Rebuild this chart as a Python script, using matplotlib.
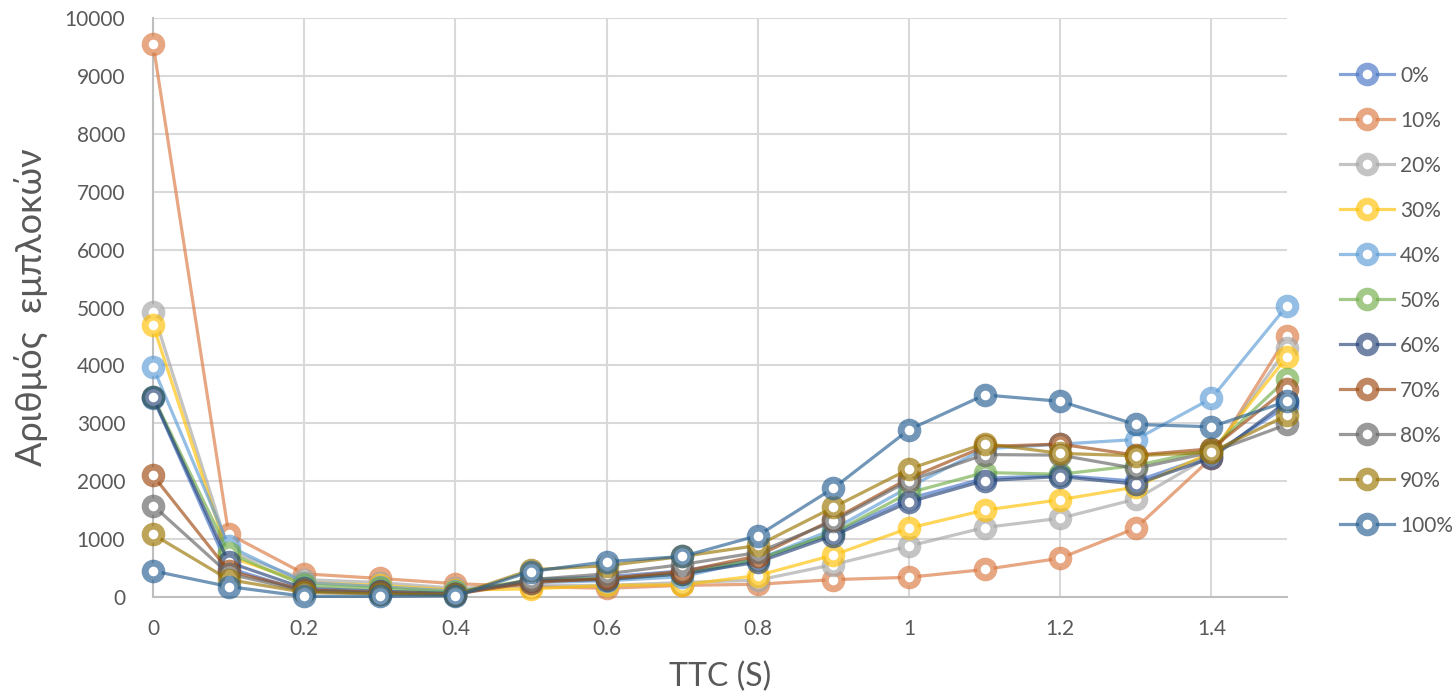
import matplotlib.pyplot as plt
from matplotlib.colors import to_rgba
from matplotlib.ticker import FixedLocator

plt.rcParams['font.family'] = ['Lato', 'Open Sans', 'DejaVu Sans']

ttc = [0, 0.1, 0.2, 0.3, 0.4, 0.5, 0.6, 0.7, 0.8, 0.9, 1.0, 1.1, 1.2, 1.3, 1.4, 1.5]
labels = ['0%', '10%', '20%', '30%', '40%', '50%', '60%', '70%', '80%', '90%', '100%']

s0 = [3440, 500, 100, 60, 40, 300, 350, 450, 650, 1100, 1700, 2050, 2100, 2000, 2450, 3300]
s10 = [9560, 1090, 400, 320, 230, 180, 150, 200, 220, 300, 340, 475, 670, 1190, 2400, 4500]
s20 = [4930, 800, 300, 250, 150, 200, 200, 250, 290, 560, 880, 1200, 1360, 1690, 2450, 4300]
s30 = [4700, 700, 250, 200, 120, 140, 200, 210, 370, 725, 1190, 1500, 1680, 1900, 2500, 4150]
s40 = [3970, 880, 250, 180, 100, 250, 280, 350, 650, 1170, 1900, 2560, 2640, 2720, 3430, 5030]
s50 = [3460, 760, 200, 150, 80, 300, 320, 400, 650, 1110, 1800, 2150, 2120, 2270, 2550, 3770]
s60 = [3450, 600, 150, 100, 60, 280, 300, 400, 600, 1060, 1640, 2010, 2080, 1950, 2400, 3380]
s70 = [2100, 450, 120, 80, 50, 250, 320, 440, 710, 1340, 2050, 2600, 2640, 2450, 2560, 3600]
s80 = [1580, 400, 100, 70, 50, 300, 400, 560, 770, 1310, 2010, 2460, 2450, 2220, 2500, 2980]
s90 = [1080, 300, 80, 50, 30, 470, 540, 700, 890, 1550, 2210, 2650, 2480, 2440, 2500, 3140]
s100 = [450, 180, 10, 10, 20, 440, 610, 700, 1060, 1880, 2890, 3490, 3380, 2980, 2940, 3380]

series = [s0, s10, s20, s30, s40, s50, s60, s70, s80, s90, s100]
colors = ['#4472C4', '#D9783F', '#A5A5A5', '#FFC000', '#5B9BD5', '#70AD47',
          '#264478', '#9E480E', '#636363', '#997300', '#255E91']

fig = plt.figure(figsize=(14.52, 6.94), dpi=100)
ax = fig.add_axes([0.1054, 0.1398, 0.7810, 0.8342])

for vals, lab, c in zip(series, labels, colors):
    rgba = to_rgba(c, 0.65)
    ax.plot(ttc, vals, color=rgba, lw=2.3, marker='o', ms=12,
            mew=5.0, mfc='white', mec=rgba, label=lab, clip_on=False, zorder=3)

ax.set_xlim(0, 1.5)
ax.set_ylim(0, 10000)
ax.xaxis.set_major_locator(FixedLocator([0, 0.2, 0.4, 0.6, 0.8, 1.0, 1.2, 1.4]))
ax.set_xticklabels(['0', '0.2', '0.4', '0.6', '0.8', '1', '1.2', '1.4'])
ax.set_yticks(range(0, 10001, 1000))
ax.grid(True, color='#D9D9D9', lw=1.5)
ax.set_axisbelow(True)
for side in ['top', 'right']:
    ax.spines[side].set_visible(False)
ax.spines['left'].set_color('#BFBFBF')
ax.spines['bottom'].set_color('#BFBFBF')
ax.spines['left'].set_linewidth(1.5)
ax.spines['bottom'].set_linewidth(1.5)
ax.tick_params(length=0, labelsize=15, colors='#595959')
ax.tick_params(axis='y', pad=20)
ax.tick_params(axis='x', pad=16)

ax.set_xlabel('TTC (S)', fontsize=23, color='#595959', labelpad=16)
ax.set_ylabel('Αριθμός  εμπλοκών', fontsize=26, color='#595959', labelpad=16)
ax.yaxis.set_label_coords(-0.093, 0.5)

leg = ax.legend(loc='upper left', bbox_to_anchor=(1.03, 0.95), frameon=False,
                fontsize=15, labelspacing=1.2, handlelength=2.6, handletextpad=0.3)
for t in leg.get_texts():
    t.set_color('#595959')

fig.savefig('out.png', dpi=100)
